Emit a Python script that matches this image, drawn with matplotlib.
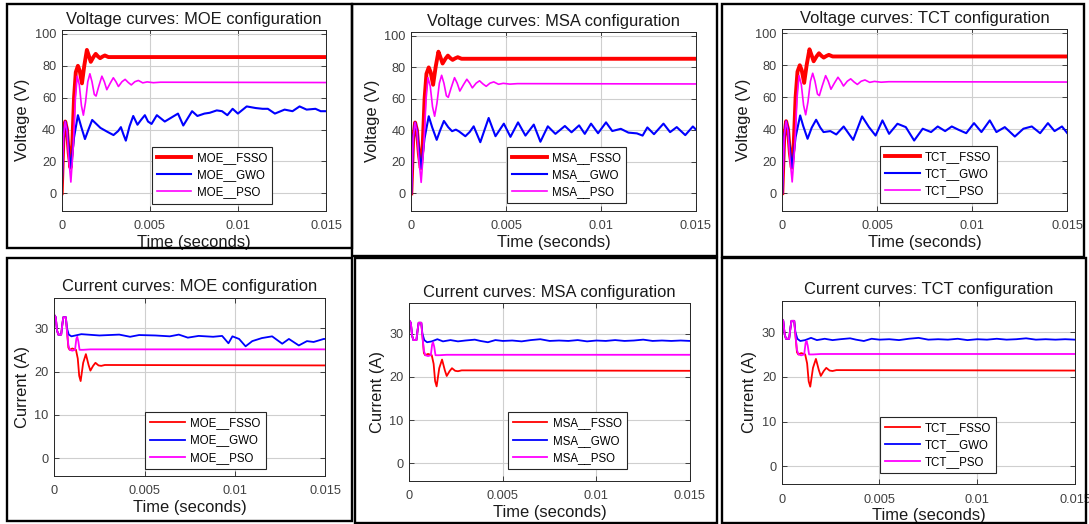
import numpy as np
import matplotlib
matplotlib.use('Agg')
import matplotlib.pyplot as plt
from matplotlib.patches import Rectangle

plt.rcParams['font.family'] = ['Liberation Sans', 'DejaVu Sans']

W, H = 1089, 524

configs = ['MOE', 'MSA', 'TCT']
x_ticks = [0, 0.005, 0.01, 0.015]
x_tick_labels = ['0', '0.005', '0.01', '0.015']
v_ticks = [0, 20, 40, 60, 80, 100]
i_ticks = [0, 10, 20, 30]

# ---- voltage data (time in ms) ----
t_v_fsso = [0, 0.1, 0.2, 0.3, 0.4, 0.5, 0.6, 0.7, 0.8, 0.92, 1.02, 1.15, 1.28, 1.43,
            1.55, 1.65, 1.8, 1.93, 2.05, 2.18, 2.32, 2.45, 2.65, 15]
v_fsso = [0, 35, 45, 40, 25, 16, 30, 60, 76, 80, 77, 69, 80, 90,
          86, 82.5, 85.5, 87.5, 86, 84.8, 85.8, 86.5, 85.5, 85.5]

t_v_pso = [0, 0.1, 0.2, 0.3, 0.4, 0.52, 0.65, 0.78, 0.88, 1.0, 1.12, 1.23, 1.35, 1.48,
           1.6, 1.72, 1.85, 1.95, 2.1, 2.28, 2.42, 2.56, 2.75, 2.93, 3.08, 3.22, 3.42,
           3.6, 3.78, 3.95, 4.15, 4.35, 4.6, 4.85, 5.2, 5.6, 15]
v_pso = [0, 35, 45, 39, 22, 7, 28, 60, 73.5, 68, 55, 49, 57, 70,
         75, 70, 62, 61, 67, 73.5, 70, 65, 69, 72.5, 70, 67, 70,
         71.5, 69.5, 68, 70, 70.8, 69.3, 69.9, 69.4, 69.7, 69.5]

t_v_gwo_moe = [0, 0.1, 0.2, 0.3, 0.42, 0.52, 0.7, 0.92, 1.1, 1.32, 1.52, 1.73, 2.2, 2.6,
               2.94, 3.2, 3.36, 3.5, 3.64, 3.85, 4.06, 4.3, 4.5, 4.72, 4.9, 5.1, 5.4,
               5.85, 6.3, 6.6, 6.9, 7.4, 7.7, 8.1, 8.4, 8.8, 9.1, 9.4, 9.7, 10.0,
               10.5, 11.0, 11.4, 11.7, 12.1, 12.65, 13.1, 13.5, 13.9, 14.4, 14.7, 15]
v_gwo_moe = [0, 35, 45, 40, 25, 16, 35, 49, 42, 34, 40, 46, 41, 38.5,
             36.5, 39, 41.5, 37, 33, 42, 48.5, 43, 46, 49, 45, 43.5, 49,
             45, 48, 50, 42.5, 51.5, 48.5, 50, 50.5, 52, 51.5, 49, 53, 50,
             54.5, 53.5, 53, 53, 50, 52.5, 51.5, 54.5, 52.5, 53, 51.5, 51.5]

t_v_gwo_msa = [0, 0.1, 0.2, 0.3, 0.42, 0.52, 0.7, 0.92, 1.1, 1.34, 1.52, 1.72, 1.95, 2.15,
               2.35, 2.5, 2.85, 3.08, 3.29, 3.64, 4.08, 4.44, 4.88, 5.23, 5.63, 6.02,
               6.46, 6.81, 7.2, 7.6, 8.1, 8.45, 8.85, 9.15, 9.48, 9.85, 10.27, 10.6,
               11.05, 11.45, 11.9, 12.2, 12.45, 12.8, 13.3, 13.65, 14.0, 14.45, 14.85, 15]
v_gwo_msa = [0, 35, 45, 40, 25, 16, 35, 49, 42, 34, 40, 46, 42, 39.5,
             40.5, 39.5, 36.3, 39, 42.6, 32.5, 47.9, 36.3, 44.3, 35.9, 45.1, 36.7,
             43.7, 32.8, 42.6, 37.8, 42.8, 38.8, 43.2, 37.8, 44.3, 38.2, 45.1, 39.6,
             41, 38.6, 38.1, 36.7, 41.9, 37.6, 44.3, 38.9, 42.1, 37, 42.5, 40.7]

t_v_gwo_tct = [0, 0.1, 0.2, 0.3, 0.42, 0.52, 0.7, 0.94, 1.1, 1.33, 1.55, 1.78, 2.0, 2.17,
               2.53, 2.84, 3.23, 3.73, 4.2, 4.56, 4.91, 5.27, 5.62, 6.06, 6.5, 6.94,
               7.39, 7.83, 8.18, 8.57, 8.92, 9.28, 9.68, 10.09, 10.48, 10.92, 11.27,
               11.71, 12.24, 12.69, 13.13, 13.57, 13.98, 14.33, 14.72, 15]
v_gwo_tct = [0, 35, 45, 40, 25, 16, 35, 48.6, 42, 34, 41, 45.9, 41, 38.2,
             38.8, 36.7, 41.7, 33.3, 48, 41.3, 36, 45.5, 37.1, 43.4, 41.3, 32.9,
             40.3, 38.2, 41.7, 38.8, 41.7, 39.6, 37.5, 43.8, 38.2, 45.5, 38.2,
             41.3, 35.4, 40.3, 41.7, 37.5, 43.8, 38.8, 41.7, 37.5]

# ---- current data (time in ms) ----
t_i_fsso = [0, 0.08, 0.15, 0.22, 0.38, 0.45, 0.5, 0.64, 0.7, 0.78, 0.85, 1.0, 1.2, 1.3,
            1.38, 1.46, 1.6, 1.75, 1.9, 2.0, 2.15, 2.28, 2.45, 2.6, 2.8, 15]
i_fsso = [33, 32.5, 29.5, 28.5, 28.5, 31, 32.5, 32.5, 29.5, 25.5, 25, 25.3, 25, 23,
          19, 17.8, 22, 24, 21.5, 20.2, 21.3, 22, 21.4, 21.3, 21.5, 21.4]

t_i_pso = [0, 0.08, 0.15, 0.22, 0.38, 0.45, 0.5, 0.64, 0.7, 0.78, 0.86, 1.0, 1.15, 1.22,
           1.27, 1.33, 1.4, 1.6, 2.0, 15]
i_pso = [33, 32.5, 29.5, 28.5, 28.5, 31, 32.5, 32.5, 29.5, 26, 25, 24.8, 25, 27.5,
         28, 27, 25, 25, 25.1, 25.1]

t_i_gwo_moe = [0, 0.08, 0.15, 0.22, 0.38, 0.45, 0.5, 0.64, 0.7, 0.8, 0.95, 1.5, 2.5, 3.6,
               4.2, 4.7, 5.6, 6.4, 6.9, 7.4, 8.0, 8.8, 9.3, 9.65, 9.87, 10.24, 10.6,
               10.97, 11.5, 12.07, 12.63, 13.0, 13.55, 14.0, 14.37, 14.93, 15]
i_gwo_moe = [33, 32.5, 29.5, 28.5, 28.5, 31, 32.5, 32.5, 30, 28.5, 28.1, 28.6, 28.3, 28.5,
             28.0, 28.4, 28.3, 28.1, 28.5, 27.8, 28.2, 28.0, 28.2, 26.5, 28.1, 27.5, 25.8,
             27.0, 27.7, 28.1, 26.4, 27.5, 26.0, 27.0, 26.8, 27.5, 27.5]

t_i_gwo_flat = [0, 0.08, 0.15, 0.22, 0.38, 0.45, 0.5, 0.64, 0.7, 0.8, 0.95, 1.2, 1.5, 1.8,
                2.2, 2.6, 3.0, 3.5, 3.8, 4.2, 4.6, 5.0, 5.5, 6.0, 6.5, 7.0, 7.5, 8.0,
                8.5, 9.0, 9.5, 10.0, 10.5, 11.0, 11.5, 12.0, 12.5, 13.0, 13.5, 14.0,
                14.5, 15]
i_gwo_flat = [33, 32.5, 29.5, 28.5, 28.5, 31, 32.5, 32.5, 30, 28.5, 28.0, 28.2, 28.7, 28.2,
              28.5, 28.2, 28.4, 28.6, 28.3, 28.0, 28.5, 28.3, 28.4, 28.2, 28.5, 28.7, 28.3, 28.4,
              28.3, 28.5, 28.2, 28.4, 28.3, 28.5, 28.3, 28.4, 28.6, 28.3, 28.4, 28.3,
              28.4, 28.3]

v_gwo = {'MOE': (t_v_gwo_moe, v_gwo_moe), 'MSA': (t_v_gwo_msa, v_gwo_msa),
         'TCT': (t_v_gwo_tct, v_gwo_tct)}
i_gwo = {'MOE': (t_i_gwo_moe, i_gwo_moe), 'MSA': (t_i_gwo_flat, i_gwo_flat),
         'TCT': (t_i_gwo_flat, i_gwo_flat)}

# axes boxes in pixels: left, top, right, bottom
v_boxes = [(61.7, 30, 326, 210.7), (411.3, 32, 695.7, 210.7), (782.3, 29.3, 1067.3, 210.7)]
i_boxes = [(54.3, 297.7, 325, 475.7), (409.3, 303.3, 690, 480.7), (781.7, 300.7, 1075, 484.3)]
v_leg = [(0.34, 0.039), (0.336, 0.041), (0.343, 0.044)]
i_leg = [(0.335, 0.038), (0.35, 0.066), (0.335, 0.06)]
frames = [(7, 4, 352, 248), (352, 4, 717, 256), (722, 4, 1084, 257),
          (7, 258, 352, 521), (355, 258, 717, 523), (722, 258, 1086, 523)]

RED, BLUE, MAG = '#ff0000', '#0000ff', '#ff00ff'

fig = plt.figure(figsize=(W / 100, H / 100), dpi=100)


def panel_axes(l, t, r, b):
    return fig.add_axes([l / W, 1 - b / H, (r - l) / W, (b - t) / H])


def style_axes(ax, yticks, ylim, title, ylabel, leg_xy):
    ax.set_xlim(0, 0.015)
    ax.set_ylim(*ylim)
    ax.set_xticks(x_ticks)
    ax.set_xticklabels(x_tick_labels)
    ax.set_yticks(yticks)
    ax.grid(True, color='#cfcfcf', lw=0.8)
    ax.set_axisbelow(True)
    ax.tick_params(direction='in', top=True, right=True, length=3.5, width=0.6,
                   labelsize=9.2, colors='#262626', labelcolor='#404040')
    ax.tick_params(axis='x', pad=7)
    ax.tick_params(axis='y', pad=4)
    for s in ax.spines.values():
        s.set_color('#262626')
        s.set_linewidth(0.7)
    ax.set_title(title, fontsize=11.9, pad=4.5, color='#1a1a1a')
    ax.set_xlabel('Time (seconds)', fontsize=11.9, labelpad=1.5, color='#1a1a1a')
    ax.set_ylabel(ylabel, fontsize=11.9, labelpad=3.5, color='#1a1a1a')
    leg = ax.legend(loc='lower left', bbox_to_anchor=leg_xy, fontsize=8.3,
                    handlelength=3.0, handletextpad=0.45, borderpad=0.45,
                    labelspacing=0.45, borderaxespad=0, fancybox=False,
                    framealpha=1, edgecolor='#262626')
    leg.get_frame().set_linewidth(0.8)


ms = 1e-3
for k, cfg in enumerate(configs):
    ax = panel_axes(*v_boxes[k])
    ax.plot(np.array(t_v_fsso) * ms, v_fsso, color=RED, lw=2.8, label=cfg + '__FSSO')
    tg, vg = v_gwo[cfg]
    ax.plot(np.array(tg) * ms, vg, color=BLUE, lw=1.5, label=cfg + '__GWO')
    ax.plot(np.array(t_v_pso) * ms, v_pso, color=MAG, lw=1.2, label=cfg + '__PSO')
    style_axes(ax, v_ticks, (-11, 102.5), 'Voltage curves: %s configuration' % cfg,
               'Voltage (V)', v_leg[k])

    ax = panel_axes(*i_boxes[k])
    ax.plot(np.array(t_i_fsso) * ms, i_fsso, color=RED, lw=1.3, label=cfg + '__FSSO')
    tg, ig = i_gwo[cfg]
    ax.plot(np.array(tg) * ms, ig, color=BLUE, lw=1.3, label=cfg + '__GWO')
    ax.plot(np.array(t_i_pso) * ms, i_pso, color=MAG, lw=1.3, label=cfg + '__PSO')
    style_axes(ax, i_ticks, (-4, 37), 'Current curves: %s configuration' % cfg,
               'Current (A)', i_leg[k])

# black frames around each panel
for (l, t, r, b) in frames:
    fig.patches.append(Rectangle((l / W, 1 - b / H), (r - l) / W, (b - t) / H,
                                 transform=fig.transFigure, fill=False,
                                 edgecolor='black', lw=1.7))

fig.savefig('out.png', dpi=100)
